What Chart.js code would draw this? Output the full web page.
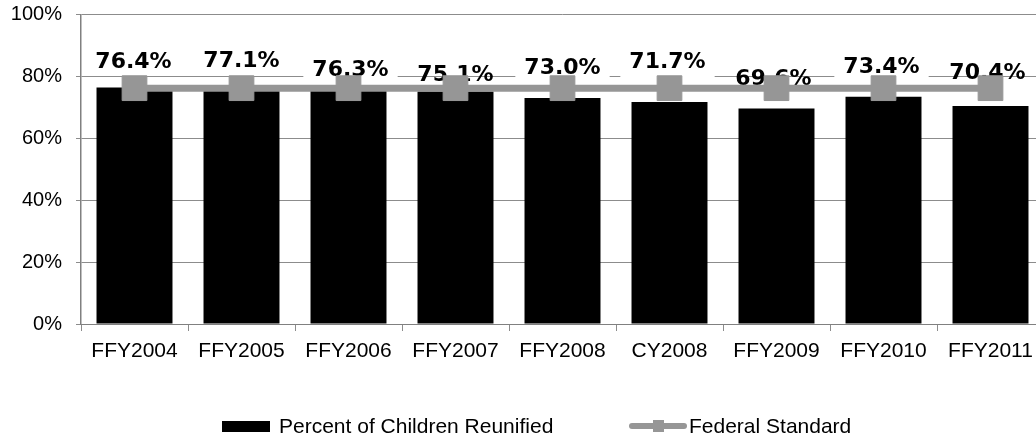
<!DOCTYPE html>
<html>
<head>
<meta charset="utf-8">
<script src="https://cdn.jsdelivr.net/npm/chart.js@4.4.1/dist/chart.umd.min.js"></script>
<style>
  html, body { margin: 0; padding: 0; background: #fff; overflow: hidden; }
  #wrap { width: 1045px; height: 440px; }
</style>
</head>
<body>
<div id="wrap"><canvas id="chart" width="1045" height="440"></canvas></div>
<script>
const categories = ['FFY2004', 'FFY2005', 'FFY2006', 'FFY2007', 'FFY2008', 'CY2008', 'FFY2009', 'FFY2010', 'FFY2011'];
const reunified = [76.4, 77.1, 76.3, 75.1, 73.0, 71.7, 69.6, 73.4, 70.4];
const federalStandard = [76.2, 76.2, 76.2, 76.2, 76.2, 76.2, 76.2, 76.2, 76.2];
const yTickValues = [0, 20, 40, 60, 80, 100];

const AXIS_FONT = '"Liberation Sans", Arial, sans-serif';

// value labels above the bars, placed by hand in the original so each one has its own lift
const barLabels = {
  id: 'barLabels',
  afterDatasetDraw(chart, args, opts) {
    if (args.index !== 0) return;
    const ctx = chart.ctx;
    ctx.save();
    ctx.font = 'bold 22px "DejaVu Sans", Verdana, sans-serif';
    ctx.textAlign = 'center';
    ctx.textBaseline = 'middle';
    args.meta.data.forEach((bar, i) => {
      const text = reunified[i].toFixed(1) + '%';
      const x = bar.x + opts.shift[i];
      const y = bar.y - opts.lift[i];
      if (opts.boxed[i]) {
        const w = ctx.measureText(text).width + 18;
        ctx.fillStyle = '#fff';
        ctx.fillRect(x - w / 2, y - 17, w, 35);
      }
      ctx.fillStyle = '#000';
      ctx.fillText(text, x, y + 2.5);
    });
    ctx.restore();
  }
};

// legend row under the axis: black box for the bars, grey line with a marker for the standard
const legendRow = {
  id: 'legendRow',
  afterDraw(chart) {
    const ctx = chart.ctx;
    const ds = chart.data.datasets;
    const y = 426;
    ctx.save();
    ctx.font = '21px ' + AXIS_FONT;
    ctx.textBaseline = 'middle';
    ctx.textAlign = 'left';

    ctx.fillStyle = '#000';
    ctx.fillRect(222, 421, 48, 11);
    ctx.fillText(ds[0].label, 279, y + 1);

    ctx.strokeStyle = '#969696';
    ctx.lineWidth = 6;
    ctx.lineCap = 'round';
    ctx.beginPath();
    ctx.moveTo(632, y);
    ctx.lineTo(684, y);
    ctx.stroke();
    ctx.fillStyle = '#969696';
    ctx.fillRect(653, 420, 11, 12);
    ctx.fillStyle = '#000';
    ctx.fillText(ds[1].label, 689, y + 1);
    ctx.restore();
  }
};

new Chart(document.getElementById('chart'), {
  type: 'bar',
  data: {
    labels: categories,
    datasets: [
      {
        type: 'bar',
        label: 'Percent of Children Reunified',
        data: reunified,
        backgroundColor: '#000',
        barPercentage: 0.71,
        categoryPercentage: 1.0,
        order: 2
      },
      {
        type: 'line',
        label: 'Federal Standard',
        data: federalStandard,
        borderColor: '#969696',
        borderWidth: 7,
        pointStyle: 'rect',
        pointRadius: 17.5,
        pointHoverRadius: 17.5,
        pointBackgroundColor: '#969696',
        pointBorderColor: '#969696',
        pointBorderWidth: 1,
        tension: 0,
        order: 1
      }
    ]
  },
  options: {
    responsive: false,
    animation: false,
    layout: { autoPadding: false, padding: { top: 0, right: 1, left: 0, bottom: 0 } },
    scales: {
      x: {
        grid: {
          drawOnChartArea: false,
          drawTicks: true,
          tickLength: 7,
          color: '#8c8c8c'
        },
        border: { color: '#808080', width: 1 },
        ticks: {
          color: '#000',
          padding: 8,
          maxRotation: 0,
          autoSkip: false,
          font: { family: AXIS_FONT, size: 21 }
        },
        afterFit(scale) { scale.height = 116; }
      },
      y: {
        min: 0,
        max: 100,
        afterBuildTicks(scale) {
          scale.ticks = yTickValues.map(v => ({ value: v }));
        },
        grid: {
          color: '#8c8c8c',
          lineWidth: 1,
          tickLength: 5
        },
        border: { color: '#808080', width: 1.5 },
        ticks: {
          color: '#000',
          padding: 14,
          font: { family: AXIS_FONT, size: 20 },
          callback: (value) => value + '%'
        },
        afterFit(scale) {
          scale.width = 81;
          // the tick padding would otherwise push the plot top down
          scale.paddingTop = 14.5;
          scale.paddingBottom = 0;
        }
      }
    },
    plugins: {
      legend: { display: false },
      tooltip: { enabled: false },
      barLabels: {
        lift: [28, 26.5, 20, 18.5, 32, 42, 32, 32.5, 35],
        shift: [-1, 0, 2, 0, 0, -2, -3, -2, -3],
        boxed: [false, false, true, false, true, true, false, true, false]
      }
    }
  },
  plugins: [barLabels, legendRow]
});
</script>
</body>
</html>
